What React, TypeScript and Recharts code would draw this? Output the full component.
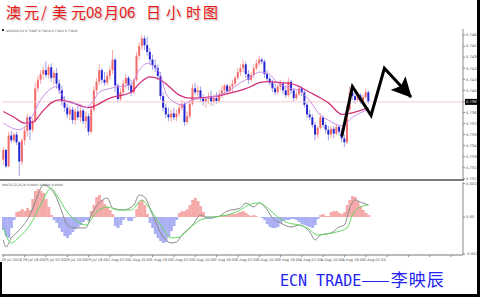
import React from "react";
import { Bar, Cell, ComposedChart, Line, ReferenceLine, XAxis, YAxis } from "recharts";

// AUDUSD H1
const opens = [
  0.7333, 0.7343, 0.7326, 0.7358, 0.7353, 0.7359, 0.7351, 0.7331, 0.7353, 0.7363,
  0.7377, 0.7364, 0.7373, 0.7407, 0.7416, 0.7422, 0.7426, 0.7421, 0.7429, 0.7418,
  0.7423, 0.7412, 0.7405, 0.7393, 0.7387, 0.738, 0.7385, 0.7374, 0.7383, 0.7377,
  0.7384, 0.7373, 0.7378, 0.7362, 0.7385, 0.7405, 0.7414, 0.7426, 0.7416, 0.7413,
  0.742, 0.7426, 0.7437, 0.741, 0.7396, 0.7403, 0.7412, 0.7418, 0.741, 0.7403,
  0.7416, 0.7441, 0.7451, 0.7459, 0.7452, 0.7445, 0.7437, 0.7431, 0.7428, 0.742,
  0.7399, 0.7387, 0.738, 0.7377, 0.7381, 0.7377, 0.7381, 0.7387, 0.7391, 0.7372,
  0.7378, 0.7391, 0.7407, 0.7403, 0.7405, 0.7397, 0.7393, 0.7396, 0.7399, 0.7393,
  0.7397, 0.7394, 0.7401, 0.7405, 0.741, 0.7404, 0.7409, 0.7412, 0.7418, 0.7424,
  0.7428, 0.7432, 0.7422, 0.7416, 0.7421, 0.7428, 0.7433, 0.7437, 0.7435, 0.7422,
  0.7417, 0.7413, 0.7407, 0.7403, 0.7409, 0.7412, 0.7405, 0.74, 0.7414, 0.7405,
  0.7397, 0.7401, 0.7407, 0.7403, 0.739, 0.738, 0.7377, 0.7369, 0.7359, 0.7366,
  0.7377, 0.7369, 0.7364, 0.7359, 0.7365, 0.736, 0.7367, 0.7362, 0.7355, 0.7351,
  0.7385, 0.7403, 0.7399, 0.7395, 0.74, 0.7394, 0.7398, 0.7403,
];
const highs = [
  0.7346, 0.7344, 0.7362, 0.7363, 0.7361, 0.7362, 0.7352, 0.7355, 0.7367, 0.7381,
  0.7379, 0.7376, 0.7413, 0.742, 0.7426, 0.743, 0.7435, 0.7432, 0.7433, 0.7426,
  0.7428, 0.7416, 0.741, 0.7399, 0.7391, 0.7389, 0.7388, 0.7387, 0.7389, 0.7387,
  0.7386, 0.7383, 0.7381, 0.7389, 0.741, 0.7418, 0.7432, 0.7428, 0.7424, 0.7424,
  0.743, 0.7447, 0.7439, 0.7412, 0.7407, 0.7416, 0.7422, 0.742, 0.7416, 0.7418,
  0.7445, 0.7455, 0.7463, 0.7462, 0.7461, 0.7449, 0.7442, 0.7437, 0.7432, 0.7424,
  0.7403, 0.7391, 0.7387, 0.7385, 0.7387, 0.7385, 0.7391, 0.7395, 0.7393, 0.7383,
  0.7395, 0.7412, 0.7413, 0.741, 0.7409, 0.7401, 0.7399, 0.7403, 0.7405, 0.7401,
  0.7403, 0.7405, 0.741, 0.7412, 0.7412, 0.7411, 0.7416, 0.742, 0.7428, 0.7432,
  0.7437, 0.7435, 0.7426, 0.7424, 0.7432, 0.7437, 0.7441, 0.7439, 0.7437, 0.7426,
  0.742, 0.7416, 0.7412, 0.7412, 0.7416, 0.7414, 0.741, 0.7418, 0.7416, 0.7407,
  0.7405, 0.741, 0.741, 0.7405, 0.7393, 0.7385, 0.738, 0.7372, 0.7368, 0.7381,
  0.7379, 0.7372, 0.7368, 0.7368, 0.7368, 0.737, 0.7369, 0.7366, 0.7359, 0.739,
  0.7409, 0.741, 0.7405, 0.7403, 0.7402, 0.7401, 0.7407, 0.7405,
];
const lows = [
  0.7327, 0.7324, 0.7325, 0.735, 0.7351, 0.7348, 0.7316, 0.7327, 0.7348, 0.7357,
  0.7353, 0.7361, 0.7371, 0.7403, 0.7412, 0.7416, 0.7418, 0.7417, 0.7414, 0.7411,
  0.7407, 0.7401, 0.7389, 0.7383, 0.7376, 0.7374, 0.737, 0.7369, 0.7374, 0.7372,
  0.737, 0.7366, 0.7358, 0.736, 0.7383, 0.7401, 0.741, 0.7412, 0.741, 0.741,
  0.7416, 0.7422, 0.7403, 0.7392, 0.7394, 0.74, 0.7407, 0.7405, 0.7399, 0.7401,
  0.7414, 0.7437, 0.7447, 0.7447, 0.7441, 0.7432, 0.7426, 0.7424, 0.7416, 0.7395,
  0.7383, 0.7376, 0.7373, 0.7372, 0.7374, 0.7373, 0.7378, 0.7384, 0.7368, 0.7369,
  0.7376, 0.7389, 0.74, 0.7397, 0.7393, 0.7389, 0.7387, 0.7391, 0.7389, 0.7389,
  0.7391, 0.7392, 0.7397, 0.74, 0.7401, 0.7402, 0.7403, 0.741, 0.7416, 0.742,
  0.7424, 0.7418, 0.7412, 0.7414, 0.7418, 0.7426, 0.743, 0.7432, 0.7418, 0.7414,
  0.741, 0.7403, 0.74, 0.7401, 0.7405, 0.7401, 0.7397, 0.7398, 0.7401, 0.7393,
  0.7395, 0.7399, 0.7399, 0.7387, 0.7376, 0.7374, 0.7366, 0.7353, 0.7355, 0.7364,
  0.7366, 0.736, 0.7353, 0.7355, 0.7355, 0.7358, 0.7358, 0.7351, 0.7346, 0.7349,
  0.7383, 0.7395, 0.7391, 0.7393, 0.7391, 0.7392, 0.7396, 0.7391,
];
const closes = [
  0.7343, 0.7326, 0.7358, 0.7353, 0.7359, 0.7351, 0.7331, 0.7353, 0.7363, 0.7377,
  0.7364, 0.7373, 0.7407, 0.7416, 0.7422, 0.7426, 0.7421, 0.7429, 0.7418, 0.7423,
  0.7412, 0.7405, 0.7393, 0.7387, 0.738, 0.7385, 0.7374, 0.7383, 0.7377, 0.7384,
  0.7373, 0.7378, 0.7362, 0.7385, 0.7405, 0.7414, 0.7426, 0.7416, 0.7413, 0.742,
  0.7426, 0.7437, 0.741, 0.7396, 0.7403, 0.7412, 0.7418, 0.741, 0.7403, 0.7416,
  0.7441, 0.7451, 0.7459, 0.7452, 0.7445, 0.7437, 0.7431, 0.7428, 0.742, 0.7399,
  0.7387, 0.738, 0.7377, 0.7381, 0.7377, 0.7381, 0.7387, 0.7391, 0.7372, 0.7378,
  0.7391, 0.7407, 0.7403, 0.7405, 0.7397, 0.7393, 0.7396, 0.7399, 0.7393, 0.7397,
  0.7394, 0.7401, 0.7405, 0.741, 0.7404, 0.7409, 0.7412, 0.7418, 0.7424, 0.7428,
  0.7432, 0.7422, 0.7416, 0.7421, 0.7428, 0.7433, 0.7437, 0.7435, 0.7422, 0.7417,
  0.7413, 0.7407, 0.7403, 0.7409, 0.7412, 0.7405, 0.74, 0.7414, 0.7405, 0.7397,
  0.7401, 0.7407, 0.7403, 0.739, 0.738, 0.7377, 0.7369, 0.7359, 0.7366, 0.7377,
  0.7369, 0.7364, 0.7359, 0.7365, 0.736, 0.7367, 0.7362, 0.7355, 0.7351, 0.7385,
  0.7403, 0.7399, 0.7395, 0.74, 0.7394, 0.7398, 0.7403, 0.7393,
];

// moving averages, sampled where they could be read: [bar, price]
const slowMa: [number, number][] = [
  [0, 0.7383], [4, 0.7377], [8, 0.7371], [11, 0.7372], [15, 0.7384], [18, 0.7392],
  [21, 0.7395], [25, 0.7393], [32, 0.7387], [40, 0.7397], [48, 0.7403], [51, 0.7412],
  [55, 0.7419], [59, 0.7416], [63, 0.7407], [66, 0.74], [70, 0.7397], [78, 0.7398],
  [85, 0.7402], [89, 0.7405], [93, 0.7409], [96, 0.7413], [100, 0.7414], [104, 0.7413],
  [108, 0.7412], [111, 0.7409], [115, 0.7403], [119, 0.7397], [122, 0.7392],
  [127, 0.738], [130, 0.7381], [137, 0.7387],
];
const fastMa: [number, number][] = [
  [0, 0.7371], [6, 0.7364], [10, 0.7374], [14, 0.7395], [18, 0.7407], [20, 0.7409],
  [21, 0.7405], [24, 0.7393], [29, 0.739], [31, 0.7387], [34, 0.7395], [36, 0.7403],
  [40, 0.7407], [44, 0.7409], [48, 0.7411], [51, 0.7426], [54, 0.7433], [56, 0.7431],
  [59, 0.7421], [61, 0.7402], [64, 0.7393], [67, 0.739], [71, 0.7395], [76, 0.7397],
  [81, 0.74], [85, 0.7405], [89, 0.7413], [93, 0.7419], [96, 0.7424], [99, 0.7423],
  [103, 0.7413], [108, 0.7407], [111, 0.7405], [115, 0.7394], [119, 0.7379],
  [122, 0.7374], [127, 0.7368], [131, 0.7377], [137, 0.7385],
];

// hand drawn forecast arrow: [slot, price]
const arrowPath: [number, number][] = [
  [127, 0.7357], [131, 0.7409], [138, 0.7379], [143, 0.7428], [153, 0.7398],
];

// MACD panel
const histogram = [
  -0.0007, -0.00103, -0.00113, -0.00059, -0.00016, 0.00027, 0.00032, 0.00043, 0.00032, 0.00049,
  0.00038, 0.00097, 0.0014, 0.00151, 0.0014, 0.0013, 0.00097, 0.00054, 0.00011, -0.00016,
  -0.00032, -0.00059, -0.00081, -0.00103, -0.00113, -0.00097, -0.00081, -0.00065, -0.00054, -0.00043,
  -0.00027, -0.00016, -0.00022, 0.00032, 0.00065, 0.00108, 0.00119, 0.00092, 0.0007, 0.00054,
  0.00038, 0.00016, -0.00049, -0.00059, -0.00043, -0.00016, -0.00005, -0.00022, -0.00022, -0.00005,
  0.00043, 0.00081, 0.00092, 0.00065, 0.00016, -0.00032, -0.00059, -0.00092, -0.00113, -0.0013,
  -0.0014, -0.00135, -0.00108, -0.00076, -0.00049, -0.00016, 0.00022, 0.00032, 0.00032, 0.00043,
  0.00065, 0.00092, 0.00103, 0.00086, 0.00059, 0.00027, -0.00005, -0.00011, -0.00011, -0.00005,
  0.00005, 0.00005, 0.00011, 0.00011, 0.00011, 0.00016, 0.00016, 0.00016, 0.00022, 0.00027,
  0.00032, 0.00022, 0.00011, 0.00005, 0.00011, 0.00005, 0, -0.00005, -0.00016, -0.00038,
  -0.00054, -0.00059, -0.00059, -0.00054, -0.00032, -0.00022, -0.00016, -0.00016, -0.00011, -0.00011,
  -0.00016, -0.00027, -0.00038, -0.00043, -0.00049, -0.00054, -0.00059, -0.00043, -0.00011, 0.00011,
  0.00016, 0.00005, 0.00005, 0.00027, 0.00032, 0.00032, 0.00022, 0.00016, 0.00027, 0.00065,
  0.00092, 0.00113, 0.00108, 0.00086, 0.00059, 0.00038, 0.00022, 0.00011,
];
const macdLine: [number, number][] = [
  [0, -0.00124], [1, -0.00162], [3, -0.00113], [6, -0.0007], [10, 0.00011], [13, 0.00119],
  [15, 0.00173], [17, 0.00162], [20, 0.00103], [22, 0.00027], [24, -0.00043], [27, -0.00059],
  [31, -0.00059], [33, 0.00011], [36, 0.00076], [39, 0.00103], [41, 0.00049], [45, 0.00038],
  [49, 0.00065], [51, 0.00119], [53, 0.00108], [56, 0.00011], [60, -0.00108], [63, -0.0014],
  [65, -0.00135], [67, -0.00097], [71, -0.00043], [74, 0.00011], [76, 0], [80, 0],
  [84, 0.00032], [89, 0.00049], [91, 0.00076], [94, 0.00054], [96, 0.00076], [99, 0.00038],
  [101, -0.00005], [104, -0.00032], [108, -0.00054], [111, -0.00043], [115, -0.00081],
  [117, -0.00124], [119, -0.00097], [123, -0.00086], [126, -0.00054], [128, -0.00043],
  [130, 0.00049], [132, 0.00092], [134, 0.00081], [137, 0.00065],
];
const signalLine: [number, number][] = [
  [0, -0.00059], [3, -0.0014], [6, -0.00108], [10, -0.00043], [14, 0.00065], [18, 0.00157],
  [20, 0.00119], [24, 0.00027], [28, -0.00027], [31, -0.00043], [35, 0.00027], [39, 0.00054],
  [43, 0.00038], [48, 0.00038], [52, 0.00092], [54, 0.00065], [59, -0.00043], [63, -0.00113],
  [66, -0.00108], [70, -0.00059], [74, -0.00016], [79, 0], [84, 0.00011], [89, 0.00038],
  [92, 0.00065], [96, 0.00076], [100, 0.00038], [103, 0], [107, -0.00032], [111, -0.00043],
  [114, -0.00059], [118, -0.00097], [121, -0.00092], [125, -0.00081], [129, -0.00059],
  [131, 0.00011], [134, 0.00054], [137, 0.00065],
];

const priceTicks = [
  0.74625, 0.7451, 0.74395, 0.7428, 0.74165, 0.7405, 0.7393, 0.7382, 0.73705, 0.7359,
  0.73475, 0.7336, 0.73245, 0.7313,
];
const macdTicks = [0.0018, 0, -0.002];
const macdTickLabels = ["0.0018", "0.00", "-0.002"];
const timeLabels = [
  "28 Jul 2016", "28 Jul 18:00", "29 Jul 02:00", "29 Jul 10:00", "29 Jul 18:00", "1 Aug 02:00",
  "1 Aug 10:00", "1 Aug 18:00", "2 Aug 02:00", "2 Aug 10:00", "2 Aug 18:00", "3 Aug 02:00",
  "3 Aug 10:00", "3 Aug 18:00", "4 Aug 02:00", "4 Aug 10:00", "4 Aug 18:00", "5 Aug 02:00",
];

const SLOTS = 173;
const LAST = closes[closes.length - 1];

const UP_BODY = "#f26a6a";
const UP_WICK = "#f6a8a8";
const DOWN_BODY = "#2424d2";
const DOWN_WICK = "#a0a0ec";
const TICK_FONT = "DejaVu Sans";

type Row = {
  i: number;
  o?: number;
  h?: number;
  l?: number;
  c?: number;
  slow?: number;
  fast?: number;
  arrow?: number;
  hist?: number;
  macd?: number;
  signal?: number;
};

const rows: Row[] = Array.from({ length: SLOTS }, (_, i) => {
  const r: Row = { i };
  if (i < closes.length) {
    r.o = opens[i];
    r.h = highs[i];
    r.l = lows[i];
    r.c = closes[i];
    r.hist = histogram[i];
  }
  return r;
});
for (const [i, v] of slowMa) rows[i].slow = v;
for (const [i, v] of fastMa) rows[i].fast = v;
for (const [i, v] of arrowPath) rows[i].arrow = v;
for (const [i, v] of macdLine) rows[i].macd = v;
for (const [i, v] of signalLine) rows[i].signal = v;

const candleRange = (d: Row) => (d.h == null ? null : [d.l, d.h]);

function Candle(props: any) {
  const { x, y, width, height, payload } = props;
  if (!payload || payload.h == null || !height) return <g />;
  const { o, h, l, c } = payload as Required<Row>;
  const k = height / (h - l);
  const py = (v: number) => y + (h - v) * k;
  const cx = x + width / 2;
  const up = c >= o;
  const top = py(Math.max(o, c));
  const bottom = py(Math.min(o, c));
  return (
    <g>
      <line x1={cx} x2={cx} y1={y} y2={y + height} stroke={up ? UP_WICK : DOWN_WICK} strokeWidth={1} />
      <rect x={cx - 1} y={top} width={2} height={Math.max(1, bottom - top)} fill={up ? UP_BODY : DOWN_BODY} />
    </g>
  );
}

function PriceTick(props: any) {
  const { x, y, payload } = props;
  const cur = payload.value === LAST;
  return (
    <g>
      {cur && <rect x={x - 1} y={y - 3} width={15} height={6} fill="#000" />}
      <text x={x} y={y + 1.3} fontSize={3.6} fontFamily={TICK_FONT} fill={cur ? "#fff" : "#555"}>
        {Number(payload.value).toFixed(5)}
      </text>
    </g>
  );
}

function MacdTick(props: any) {
  const { x, y, payload } = props;
  const idx = macdTicks.indexOf(payload.value);
  return (
    <text x={x} y={y + 1.3} fontSize={3.6} fontFamily={TICK_FONT} fill="#555">
      {idx >= 0 ? macdTickLabels[idx] : ""}
    </text>
  );
}

function TimeTick(props: any) {
  const { x, y, payload } = props;
  const label = timeLabels[payload.value / 8];
  if (!label) return <g />;
  return (
    <text x={x - 2} y={y + 3} fontSize={3.6} fontFamily={TICK_FONT} fill="#555">
      {label}
    </text>
  );
}

function PriceChart() {
  return (
    <ComposedChart width={480} height={154} data={rows} margin={{ top: 0, right: 0, bottom: 4, left: 2 }}>
      <defs>
        <marker
          id="arrowHead"
          viewBox="0 0 20 20"
          markerWidth={20}
          markerHeight={20}
          refX={19}
          refY={10}
          orient="auto"
          markerUnits="userSpaceOnUse"
        >
          <path d="M0,0 L20,10 L0,20 L4,10 Z" fill="#000" />
        </marker>
      </defs>
      <XAxis dataKey="i" hide />
      <YAxis
        orientation="right"
        width={17}
        domain={[0.73128, 0.74688]}
        ticks={priceTicks}
        interval={0}
        tick={<PriceTick />}
        tickSize={2}
        tickMargin={1}
        tickLine={{ stroke: "#888" }}
        axisLine={{ stroke: "#888" }}
        allowDataOverflow
      />
      <ReferenceLine y={LAST} stroke="#f3cccc" strokeWidth={1} />
      <Bar dataKey={candleRange as any} shape={(p: any) => <Candle {...p} />} isAnimationActive={false} />
      <Line dataKey="slow" type="monotone" stroke="#d2337a" strokeWidth={1.3} dot={false} connectNulls isAnimationActive={false} />
      <Line dataKey="fast" type="monotone" stroke="#c98ee6" strokeWidth={1} dot={false} connectNulls isAnimationActive={false} />
      <Line
        dataKey="arrow"
        type="linear"
        stroke="#000"
        strokeWidth={3}
        strokeLinejoin="miter"
        dot={false}
        connectNulls
        markerEnd="url(#arrowHead)"
        isAnimationActive={false}
      />
    </ComposedChart>
  );
}

function MacdChart() {
  return (
    <ComposedChart
      width={480}
      height={84}
      data={rows}
      margin={{ top: 0, right: 0, bottom: 0, left: 2 }}
      barCategoryGap={0}
    >
      <XAxis
        dataKey="i"
        interval={7}
        tick={<TimeTick />}
        tickSize={2}
        tickMargin={1}
        height={11}
        tickLine={{ stroke: "#888" }}
        axisLine={{ stroke: "#777" }}
      />
      <YAxis
        orientation="right"
        width={17}
        domain={[-0.00205, 0.00189]}
        ticks={macdTicks}
        interval={0}
        tick={<MacdTick />}
        tickSize={2}
        tickMargin={1}
        tickLine={{ stroke: "#888" }}
        axisLine={{ stroke: "#888" }}
        allowDataOverflow
      />
      <Bar dataKey="hist" isAnimationActive={false}>
        {rows.map((r) => (
          <Cell key={r.i} fill={(r.hist ?? 0) >= 0 ? "#f6a9a9" : "#aab0f3"} />
        ))}
      </Bar>
      <Line dataKey="macd" type="monotone" stroke="#8a8a8a" strokeWidth={1} dot={false} connectNulls isAnimationActive={false} />
      <Line dataKey="signal" type="monotone" stroke="#62d862" strokeWidth={1} dot={false} connectNulls isAnimationActive={false} />
    </ComposedChart>
  );
}

const titleGlyphs: [string, number][] = [
  ["澳", 6], ["元", 24], ["/", 41], ["美", 52], ["元", 71], ["0", 86], ["8", 94], ["月", 104],
  ["0", 119], ["6", 127], ["日", 146], ["小", 166], ["时", 186], ["图", 203],
];

export default function App() {
  return (
    <div
      style={{
        position: "relative",
        width: 480,
        height: 297,
        background: "#fff",
        overflow: "hidden",
        fontFamily: "'Noto Sans CJK SC', sans-serif",
      }}
    >
      <style>{"body{margin:0}"}</style>

      {titleGlyphs.map(([ch, x], k) => (
        <span
          key={k}
          style={{
            position: "absolute",
            left: x,
            top: 4,
            fontSize: 15,
            lineHeight: "16px",
            color: "#f01818",
            textShadow: "1px 1px 2px #b0b0b0",
          }}
        >
          {ch}
        </span>
      ))}

      <div style={{ position: "absolute", left: 0, top: 29 }}>
        <PriceChart />
      </div>
      <div style={{ position: "absolute", left: 0, top: 182 }}>
        <MacdChart />
      </div>

      {/* panel frame */}
      <div style={{ position: "absolute", left: 0, top: 179, width: 464, height: 2, background: "#7c7c7c" }} />

      <svg width={480} height={297} style={{ position: "absolute", left: 0, top: 0, pointerEvents: "none" }}>
        <rect x={2} y={29} width={2} height={2} fill="#222" />
        <text x={6} y={31.5} fontSize={3} fontFamily={TICK_FONT} fill="#555">
          AUDUSD,H1 0.73997 0.74010 0.73912 0.73930
        </text>
        <text x={2} y={186} fontSize={3.2} fontFamily={TICK_FONT} fill="#555">
          MACD(12,26,9) 0.0006 0.0006 0.0000
        </text>
      </svg>

      <div
        style={{
          position: "absolute",
          left: 280,
          top: 270,
          height: 18,
          whiteSpace: "nowrap",
          color: "#2424f2",
          lineHeight: "18px",
        }}
      >
        <span style={{ fontFamily: "'DejaVu Sans Mono', monospace", fontSize: 15 }}>ECN TRADE</span>
        <span style={{ fontFamily: "'Noto Sans CJK SC', sans-serif", fontSize: 17, letterSpacing: 1 }}>——李映辰</span>
      </div>

      {/* outer black edge */}
      <div style={{ position: "absolute", left: 477, top: 0, width: 3, height: 297, background: "#000" }} />
      <div style={{ position: "absolute", left: 0, top: 294, width: 480, height: 3, background: "#000" }} />
      <div style={{ position: "absolute", left: 0, top: 262, width: 2, height: 35, background: "#000" }} />
    </div>
  );
}
